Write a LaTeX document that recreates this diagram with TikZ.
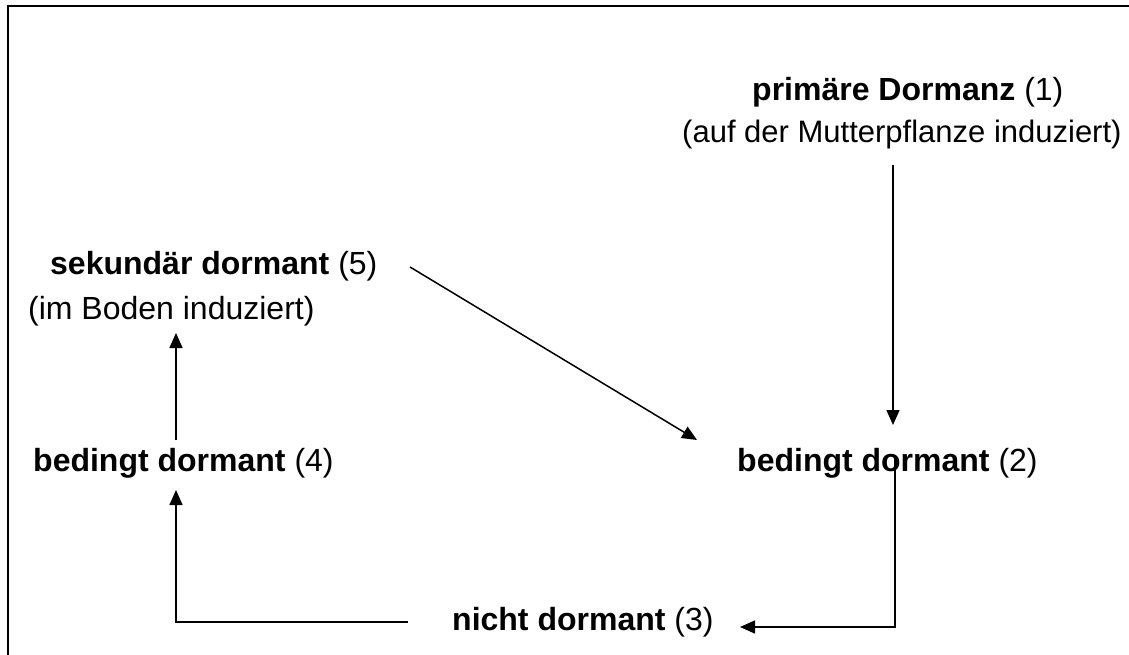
\documentclass[tikz,border=0pt]{standalone}
\usepackage{fontspec}
\setmainfont{Liberation Sans}
\usetikzlibrary{arrows.meta}
\begin{document}
\begin{tikzpicture}[x=1pt,y=-1pt,
  lbl/.style={anchor=base west,inner sep=0pt,font=\fontsize{32}{38}\selectfont},
  sublbl/.style={anchor=base west,inner sep=0pt,font=\fontsize{31}{37}\selectfont},
  conn/.style={line width=1.5pt,-{Triangle[length=15pt,width=13pt]}},
  frame/.style={line width=2.2pt}]
\useasboundingbox (0,0) rectangle (1129,655);
\draw[frame] (8,656) -- (8,6) -- (1130,6);
\node[lbl] (n1) at (752,101) {\textbf{primäre Dormanz} (1)};
\node[sublbl] (n1b) at (682,143) {(auf der Mutterpflanze induziert)};
\node[lbl] (n5) at (50,274) {\textbf{sekundär dormant} (5)};
\node[lbl] (n5b) at (28,319) {(im Boden induziert)};
\node[lbl] (n4) at (33,471) {\textbf{bedingt dormant} (4)};
\node[lbl] (n2) at (737,471) {\textbf{bedingt dormant} (2)};
\node[lbl] (n3) at (452,630) {\textbf{nicht dormant} (3)};
\coordinate (a1s) at (893,165);
\coordinate (a1e) at (893,425);
\coordinate (a2s) at (410,267);
\coordinate (a2e) at (697,440);
\coordinate (a3s) at (895,455);
\coordinate (a3c) at (895,627);
\coordinate (a3e) at (740,627);
\coordinate (a4s) at (408,622);
\coordinate (a4c) at (176,622);
\coordinate (a4e) at (176,490);
\coordinate (a5s) at (176,440);
\coordinate (a5e) at (176,333);
\draw[conn] (a1s) -- (a1e);
\draw[conn] (a2s) -- (a2e);
\draw[conn] (a3s) -- (a3c) -- (a3e);
\draw[conn] (a4s) -- (a4c) -- (a4e);
\draw[conn] (a5s) -- (a5e);
\end{tikzpicture}
\end{document}
